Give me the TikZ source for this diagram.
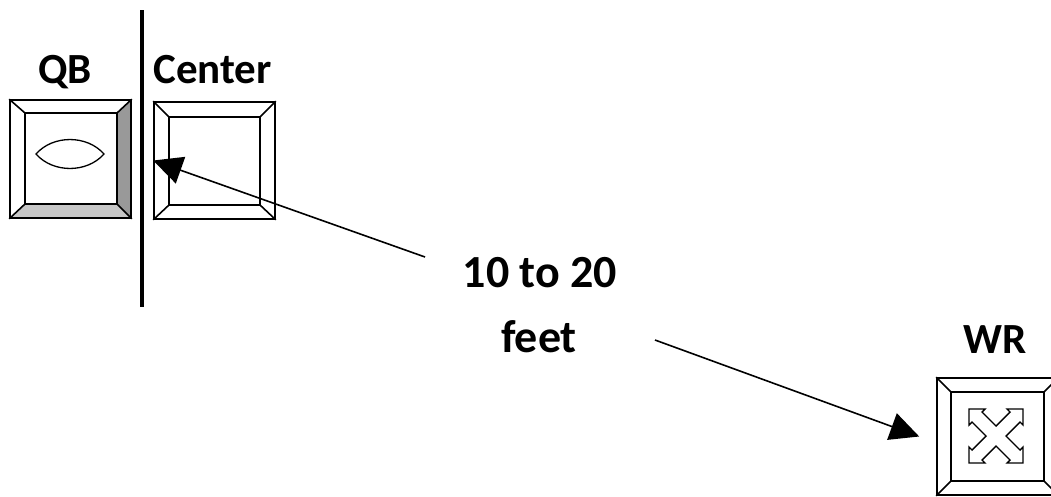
\documentclass[tikz,border=0pt]{standalone}
\usepackage{fontspec}
\setmainfont{Carlito}
\usetikzlibrary{arrows.meta,calc}

\tikzset{
  tile/.style={draw, line width=1.6pt, rectangle, minimum width=121pt, minimum height=117pt, inner sep=0pt},
  bevel/.style={line width=1.6pt, line join=miter},
  lbl/.style={font=\bfseries\fontsize{43}{50}\selectfont, inner sep=0pt, anchor=base},
  biglbl/.style={font=\bfseries\fontsize{46}{54}\selectfont, inner sep=0pt, anchor=base},
  pointer/.style={line width=1.6pt, -{Triangle[length=29pt,width=28pt]}},
  icon/.style={line width=1.4pt, line join=miter},
}

% inner square and corner mitres of a bevelled tile: name, left, top, right, bottom inset
\newcommand\bevelbox[5]{%
  \coordinate (#1-inw) at ($(#1.north west)+(#2,#3)$);
  \coordinate (#1-ine) at ($(#1.north east)+(-#4,#3)$);
  \coordinate (#1-ise) at ($(#1.south east)+(-#4,-#5)$);
  \coordinate (#1-isw) at ($(#1.south west)+(#2,-#5)$);
  \draw[bevel] (#1-inw) -- (#1-ine) -- (#1-ise) -- (#1-isw) -- cycle;
  \draw[bevel] (#1.north west) -- (#1-inw);
  \draw[bevel] (#1.north east) -- (#1-ine);
  \draw[bevel] (#1.south east) -- (#1-ise);
  \draw[bevel] (#1.south west) -- (#1-isw);
}

\begin{document}
\begin{tikzpicture}[x=1pt,y=-1pt]
\useasboundingbox (0,0) rectangle (1051,496);

% QB tile with shaded right and bottom faces
\node[tile, minimum height=118pt] (qb) at (70.5,159) {};
\fill[black!40] (qb.north east) -- ($(qb.north east)+(-15,14)$) -- ($(qb.south east)+(-15,-15)$) -- (qb.south east) -- cycle;
\fill[black!22] (qb.south west) -- ($(qb.south west)+(16,-15)$) -- ($(qb.south east)+(-15,-15)$) -- (qb.south east) -- cycle;
\node[tile, minimum height=118pt] at (qb.center) {};
\bevelbox{qb}{16}{14}{15}{15}
% ball
\draw[line width=1.3pt] (36,154) .. controls (53,134.7) and (87,134.7) .. (104,154)
                                 .. controls (87,173.3) and (53,173.3) .. (36,154) -- cycle;

% line of scrimmage
\coordinate (losTop) at (142,10);
\coordinate (losBot) at (142,307);
\draw[line width=3.6pt] (losTop) -- (losBot);

% Center tile
\node[tile] (center) at (214.5,160.5) {};
\bevelbox{center}{16}{16}{16}{15}

% WR tile with move icon
\node[tile] (wr) at (997.5,436.5) {};
\bevelbox{wr}{15}{15}{15}{15}
\draw[icon, shift={(996,436)}]
  (-27,-27) -- (-11,-27) -- (-14,-24) -- (0,-10) -- (14,-24) -- (11,-27) -- (27,-27)
  -- (27,-11) -- (24,-14) -- (10,0) -- (24,14) -- (27,11) -- (27,27)
  -- (11,27) -- (14,24) -- (0,10) -- (-14,24) -- (-11,27) -- (-27,27)
  -- (-27,11) -- (-24,14) -- (-10,0) -- (-24,-14) -- (-27,-11) -- cycle;

% labels
\node[lbl] (qbl) at (65,83) {QB};
\node[lbl] (centerl) at (212.5,83) {Center};
\node[lbl] (wrl) at (995,353) {WR};
\node[biglbl] (dist) at (540,287) {10 to 20};
\node[biglbl] (feet) at (539,352) {feet};

% distance arrows
\coordinate (gapA) at (425,257);
\coordinate (gapB) at (655,340);
\draw[pointer] (gapA) -- (center.west);
\draw[pointer] (gapB) -- ($(wr.west)+(-17,0)$);
\end{tikzpicture}
\end{document}
